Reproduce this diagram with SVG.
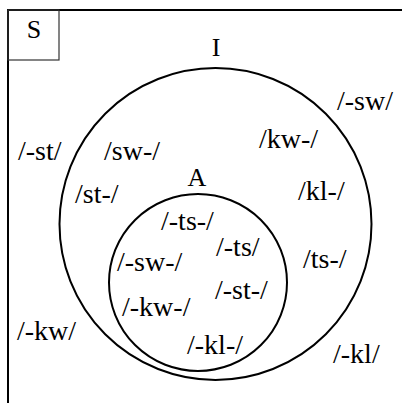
<svg xmlns="http://www.w3.org/2000/svg" width="402" height="403" viewBox="0 0 402 403">
<style>
.t{font-size:28px;fill:#000}
.l{font-size:26px;fill:#000}
.c{fill:none;stroke:#000;stroke-width:2}
</style>
<rect x="0" y="0" width="402" height="403" fill="#fff"/>
<g font-family="Liberation Serif, Times New Roman, serif">
<g id="S">
<rect x="8" y="10" width="420" height="420" class="c"/>
<rect x="8" y="10" width="51" height="50" fill="none" stroke="#333" stroke-width="1.2"/>
<text class="l" x="34" y="38" text-anchor="middle">S</text>
</g>
<g id="I">
<circle cx="215.5" cy="224" r="156" class="c"/>
<text class="l" x="216" y="56" text-anchor="middle">I</text>
</g>
<g id="A">
<ellipse cx="198" cy="282.5" rx="89" ry="88.5" class="c"/>
<text class="l" x="197" y="186" text-anchor="middle">A</text>
</g>
<g id="labels">
<text class="t" x="18" y="160">/-st/</text>
<text class="t" x="104" y="160">/sw-/</text>
<text class="t" x="337" y="110">/-sw/</text>
<text class="t" x="259" y="148">/kw-/</text>
<text class="t" x="75" y="203">/st-/</text>
<text class="t" x="298" y="200">/kl-/</text>
<text class="t" x="161" y="230">/-ts-/</text>
<text class="t" x="216" y="256">/-ts/</text>
<text class="t" x="303" y="268">/ts-/</text>
<text class="t" x="117" y="271">/-sw-/</text>
<text class="t" x="215" y="299">/-st-/</text>
<text class="t" x="122" y="316">/-kw-/</text>
<text class="t" x="187" y="354">/-kl-/</text>
<text class="t" x="17" y="340">/-kw/</text>
<text class="t" x="333" y="363">/-kl/</text>
</g>
</g>
</svg>
